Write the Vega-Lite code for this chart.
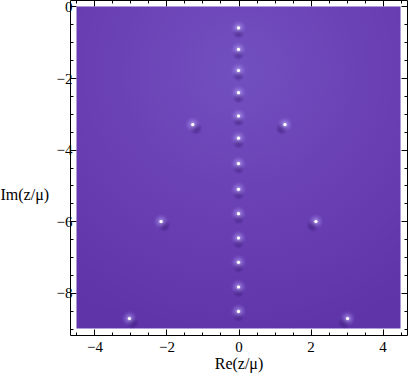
{
  "$schema": "https://vega.github.io/schema/vega-lite/v6.json",
  "width": 337,
  "height": 335,
  "autosize": "none",
  "padding": {"left": 70, "top": 0, "right": 2, "bottom": 41},
  "background": "white",
  "config": {
    "view": {"stroke": null},
    "axis": {
      "grid": false,
      "domainColor": "black",
      "domainWidth": 1,
      "tickColor": "black",
      "tickWidth": 1,
      "labelColor": "black",
      "labelFont": "Liberation Serif",
      "labelFontSize": 15,
      "titleFont": "Liberation Serif",
      "titleFontSize": 16,
      "titleFontWeight": "normal",
      "titleColor": "black",
      "labelOverlap": false,
      "labelFlush": false
    }
  },
  "datasets": {
    "bg": [{"x1": -4.5, "x2": 4.5, "y1": -9, "y2": 0}],
    "zeros": [
      {"x": 0, "y": -0.60},
      {"x": 0, "y": -1.20},
      {"x": 0, "y": -1.79},
      {"x": 0, "y": -2.41},
      {"x": 0, "y": -3.06},
      {"x": 0, "y": -3.68},
      {"x": 0, "y": -4.39},
      {"x": 0, "y": -5.11},
      {"x": 0, "y": -5.79},
      {"x": 0, "y": -6.47},
      {"x": 0, "y": -7.15},
      {"x": 0, "y": -7.84},
      {"x": 0, "y": -8.52},
      {"x": -1.27, "y": -3.30},
      {"x": 1.29, "y": -3.30},
      {"x": -2.15, "y": -6.01},
      {"x": 2.15, "y": -6.01},
      {"x": -3.03, "y": -8.72},
      {"x": 3.03, "y": -8.72}
    ]
  },
  "resolve": {"axis": {"x": "independent", "y": "independent"}},
  "layer": [
    {
      "data": {"name": "bg"},
      "mark": {
        "type": "rect",
        "color": {
          "gradient": "radial",
          "x1": 0.5, "y1": 0.2, "x2": 0.5, "y2": 0.2, "r1": 0, "r2": 0.85,
          "stops": [
            {"offset": 0, "color": "#7250c0"},
            {"offset": 0.5, "color": "#6a40b4"},
            {"offset": 1, "color": "#5f34a8"}
          ]
        }
      },
      "encoding": {
        "x": {
          "field": "x1", "type": "quantitative",
          "scale": {"domain": [-4.68, 4.68], "nice": false, "zero": false},
          "axis": {
            "orient": "bottom",
            "title": "Re(z/μ)",
            "titlePadding": -2,
            "values": [-4.5, -4, -3.5, -3, -2.5, -2, -1.5, -1, -0.5, 0, 0.5, 1, 1.5, 2, 2.5, 3, 3.5, 4, 4.5],
            "labelExpr": "datum.value % 2 === 0 ? replace(format(datum.value, 'd'), '-', '−') : ''",
            "tickSize": {"condition": {"test": "datum.value % 2 === 0", "value": -6}, "value": -3},
            "labelPadding": 10
          }
        },
        "x2": {"field": "x2"},
        "y": {
          "field": "y1", "type": "quantitative",
          "scale": {"domain": [-9.18, 0.18], "nice": false, "zero": false},
          "axis": {
            "orient": "left",
            "title": "Im(z/μ)",
            "titleAngle": 0,
            "titleAlign": "left",
            "titleBaseline": "middle",
            "titleX": -70,
            "titleY": 194,
            "values": [-9, -8.5, -8, -7.5, -7, -6.5, -6, -5.5, -5, -4.5, -4, -3.5, -3, -2.5, -2, -1.5, -1, -0.5, 0],
            "labelExpr": "datum.value % 2 === 0 ? replace(format(datum.value, 'd'), '-', '−') : ''",
            "tickSize": {"condition": {"test": "datum.value % 2 === 0", "value": -6}, "value": -3},
            "labelPadding": 4
          }
        },
        "y2": {"field": "y2"}
      }
    },
    {
      "data": {"name": "zeros"},
      "transform": [{"filter": "datum.x < 0"}],
      "mark": {
        "type": "circle", "size": 170, "opacity": 1, "xOffset": 3, "yOffset": 4,
        "color": {
          "gradient": "radial",
          "x1": 0.5, "y1": 0.5, "x2": 0.5, "y2": 0.5, "r1": 0, "r2": 0.5,
          "stops": [
            {"offset": 0, "color": "rgba(55,20,115,0.8)"},
            {"offset": 1, "color": "rgba(55,20,115,0)"}
          ]
        }
      },
      "encoding": {
        "x": {"field": "x", "type": "quantitative", "axis": null},
        "y": {"field": "y", "type": "quantitative", "axis": null}
      }
    },
    {
      "data": {"name": "zeros"},
      "transform": [{"filter": "datum.x > 0"}],
      "mark": {
        "type": "circle", "size": 170, "opacity": 1, "xOffset": -3, "yOffset": 4,
        "color": {
          "gradient": "radial",
          "x1": 0.5, "y1": 0.5, "x2": 0.5, "y2": 0.5, "r1": 0, "r2": 0.5,
          "stops": [
            {"offset": 0, "color": "rgba(55,20,115,0.8)"},
            {"offset": 1, "color": "rgba(55,20,115,0)"}
          ]
        }
      },
      "encoding": {
        "x": {"field": "x", "type": "quantitative", "axis": null},
        "y": {"field": "y", "type": "quantitative", "axis": null}
      }
    },
    {
      "data": {"name": "zeros"},
      "transform": [{"filter": "datum.x == 0"}],
      "mark": {
        "type": "circle", "size": 140, "opacity": 1, "yOffset": 5,
        "color": {
          "gradient": "radial",
          "x1": 0.5, "y1": 0.5, "x2": 0.5, "y2": 0.5, "r1": 0, "r2": 0.5,
          "stops": [
            {"offset": 0, "color": "rgba(55,20,115,0.75)"},
            {"offset": 1, "color": "rgba(55,20,115,0)"}
          ]
        }
      },
      "encoding": {
        "x": {"field": "x", "type": "quantitative", "axis": null},
        "y": {"field": "y", "type": "quantitative", "axis": null}
      }
    },
    {
      "data": {"name": "zeros"},
      "mark": {
        "type": "circle", "size": 260, "opacity": 1,
        "color": {
          "gradient": "radial",
          "x1": 0.5, "y1": 0.5, "x2": 0.5, "y2": 0.5, "r1": 0, "r2": 0.5,
          "stops": [
            {"offset": 0, "color": "rgba(235,228,255,0.95)"},
            {"offset": 0.3, "color": "rgba(185,165,245,0.5)"},
            {"offset": 1, "color": "rgba(130,100,215,0)"}
          ]
        }
      },
      "encoding": {
        "x": {
          "field": "x", "type": "quantitative",
          "axis": {
            "orient": "top", "title": null, "labels": false,
            "values": [-4.5, -4, -3.5, -3, -2.5, -2, -1.5, -1, -0.5, 0, 0.5, 1, 1.5, 2, 2.5, 3, 3.5, 4, 4.5],
            "tickSize": {"condition": {"test": "datum.value % 2 === 0", "value": -6}, "value": -3}
          }
        },
        "y": {
          "field": "y", "type": "quantitative",
          "axis": {
            "orient": "right", "title": null, "labels": false,
            "values": [-9, -8.5, -8, -7.5, -7, -6.5, -6, -5.5, -5, -4.5, -4, -3.5, -3, -2.5, -2, -1.5, -1, -0.5, 0],
            "tickSize": {"condition": {"test": "datum.value % 2 === 0", "value": -6}, "value": -3}
          }
        }
      }
    },
    {
      "data": {"name": "zeros"},
      "mark": {"type": "circle", "size": 10, "opacity": 1, "color": "#ffffff"},
      "encoding": {
        "x": {"field": "x", "type": "quantitative", "axis": null},
        "y": {"field": "y", "type": "quantitative", "axis": null}
      }
    }
  ]
}
